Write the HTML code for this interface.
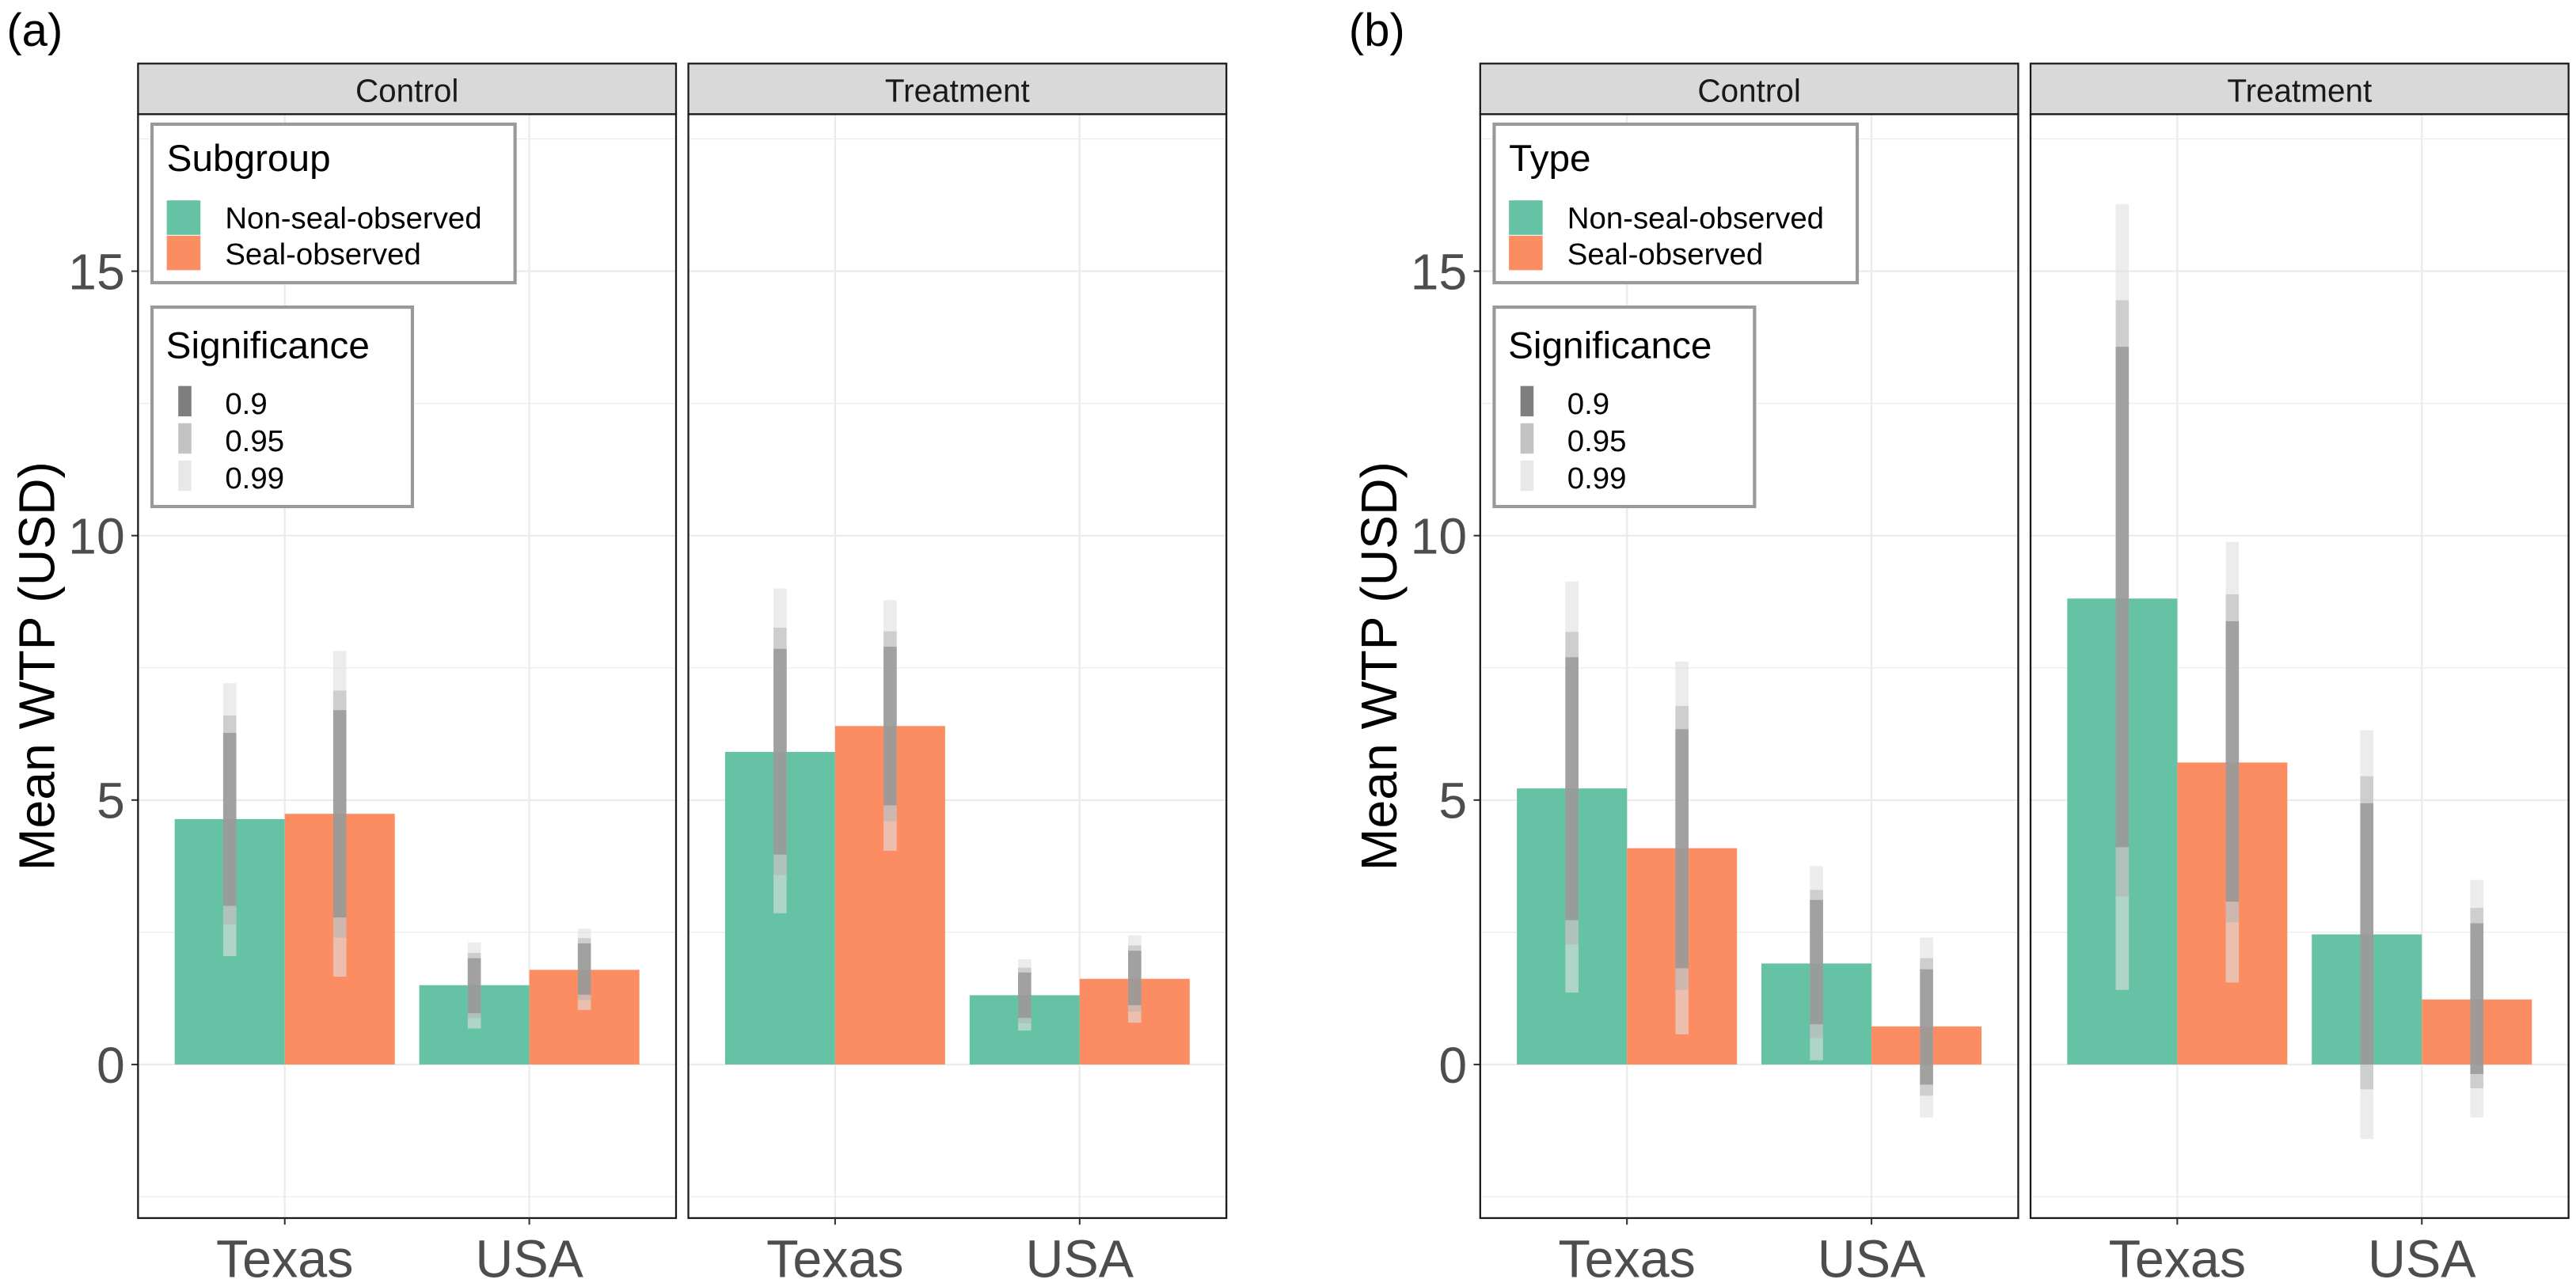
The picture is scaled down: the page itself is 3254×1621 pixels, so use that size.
<!DOCTYPE html>
<html><head><meta charset="utf-8"><style>
html,body{margin:0;padding:0;background:#fff;}
svg{display:block;font-family:"Liberation Sans",Arial,sans-serif;}
</style></head><body>
<svg id="fig" xmlns="http://www.w3.org/2000/svg" width="3254" height="1621" viewBox="0 0 1568 781.13"></svg>
<script>
const categories = ["Texas", "USA"];
const facets = ["Control", "Treatment"];
const subgroups = ["Non-seal-observed", "Seal-observed"];
const sigLevels = ["0.9", "0.95", "0.99"];
const yTicks = [0, 5, 10, 15];
const yTickLabels = ["0", "5", "10", "15"];
// order per facet: Texas-non-seal, Texas-seal, USA-non-seal, USA-seal (Control then Treatment)
const aMean = [4.64, 4.74, 1.50, 1.79, 5.91, 6.40, 1.31, 1.62];
const aLo90 = [3.00, 2.78, 0.97, 1.32, 3.97, 4.90, 0.88, 1.12];
const aHi90 = [6.27, 6.70, 2.01, 2.29, 7.86, 7.90, 1.74, 2.15];
const aLo95 = [2.65, 2.40, 0.88, 1.22, 3.58, 4.60, 0.78, 1.00];
const aHi95 = [6.60, 7.07, 2.11, 2.39, 8.26, 8.19, 1.83, 2.25];
const aLo99 = [2.05, 1.66, 0.68, 1.03, 2.86, 4.04, 0.64, 0.79];
const aHi99 = [7.21, 7.82, 2.31, 2.57, 9.00, 8.78, 1.99, 2.44];
const bMean = [5.22, 4.09, 1.91, 0.72, 8.81, 5.71, 2.46, 1.23];
const bLo90 = [2.73, 1.82, 0.76, -0.38, 4.11, 3.08, 0.00, -0.18];
const bHi90 = [7.70, 6.34, 3.11, 1.80, 13.57, 8.38, 4.94, 2.67];
const bLo95 = [2.27, 1.41, 0.50, -0.59, 3.18, 2.69, -0.47, -0.45];
const bHi95 = [8.18, 6.78, 3.30, 2.01, 14.45, 8.89, 5.45, 2.96];
const bLo99 = [1.36, 0.57, 0.08, -1.00, 1.41, 1.55, -1.41, -1.00];
const bHi99 = [9.13, 7.62, 3.75, 2.40, 16.27, 9.88, 6.32, 3.49];

const NS = "http://www.w3.org/2000/svg";
const svg = document.getElementById("fig");
function mk(tag, attrs, parent) {
  const e = document.createElementNS(NS, tag);
  for (const k in attrs) e.setAttribute(k, attrs[k]);
  (parent || svg).appendChild(e);
  return e;
}
const COLORS = ["#66c2a5", "#fc8d62"];
const PT = 69.5, PB = 741.6, PW = 327.5, GAP = 7.5;
const Y0 = 648.1, PXU = 32.2;
function y(v) { return Y0 - v * PXU; }
const YMIN = (Y0 - PB) / PXU, YMAX = (Y0 - PT) / PXU;
function xcat(px, i) { return px + (0.6 + i) * (PW / 2.2); }
const UNIT = PW / 2.2;

function drawChart(ox, tag, legendTitle, mean, lo90, hi90, lo95, hi95, lo99, hi99) {
  const g = mk("g", {});
  
  
  const lab = mk("text", {x: ox - 80, y: 28, "font-size": 28, fill: "#000"}, g);
  lab.textContent = "(" + tag + ")";
  
  
  const yt = mk("text", {x: 0, y: 0, "font-size": 31, fill: "#000", "text-anchor": "middle", transform: "translate(" + (ox - 51) + "," + ((PT + PB) / 2) + ") rotate(-90)"}, g);
  yt.textContent = "Mean WTP (USD)";
  
  
  yTicks.forEach((t, i) => {
    const tl = mk("text", {x: ox - 8, y: y(t) + 11, "font-size": 31, fill: "#4d4d4d", "text-anchor": "end"}, g);
    tl.textContent = yTickLabels[i];
    
    
    mk("line", {x1: ox - 4, x2: ox, y1: y(t), y2: y(t), stroke: "#333", "stroke-width": 1}, g);
  });
  facets.forEach((f, fi) => {
    const px = ox + fi * (PW + GAP);
    const pg = mk("g", {}, g);
    
    
    mk("rect", {x: px, y: PT, width: PW, height: PB - PT, fill: "#fff"}, pg);
    for (let v = -2.5; v <= YMAX; v += 2.5) {
      if (v < YMIN) continue;
      const major = Math.abs(v % 5) < 1e-6;
      mk("line", {x1: px, x2: px + PW, y1: y(v), y2: y(v), stroke: "#ebebeb", "stroke-width": major ? 1.1 : 0.6}, pg);
    }
    categories.forEach((c, ci) => {
      mk("line", {x1: xcat(px, ci), x2: xcat(px, ci), y1: PT, y2: PB, stroke: "#ebebeb", "stroke-width": 1.1}, pg);
    });
    categories.forEach((c, ci) => {
      subgroups.forEach((s, si) => {
        const idx = fi * 4 + ci * 2 + si;
        const cx = xcat(px, ci);
        const bx = si === 0 ? cx - 0.45 * UNIT : cx;
        const m = mean[idx];
        const bar = mk("rect", {x: bx, y: Math.min(y(m), y(0)), width: 0.45 * UNIT, height: Math.abs(y(m) - y(0)), fill: COLORS[si]}, pg);
        
        
        const mx = bx + 0.45 * UNIT / 2;
        const layers = [[lo99[idx], hi99[idx], "#e0e0e0", 0.6], [lo95[idx], hi95[idx], "#b0b0b0", 0.5], [lo90[idx], hi90[idx], "#888888", 0.65]];
        layers.forEach((L, li) => {
          const r = mk("rect", {x: mx - 4, y: y(L[1]), width: 8, height: y(L[0]) - y(L[1]), fill: L[2], "fill-opacity": L[3]}, pg);
          
          
        });
      });
    });
    mk("rect", {x: px, y: PT, width: PW, height: PB - PT, fill: "none", stroke: "#1a1a1a", "stroke-width": 1.1}, pg);
    const strip = mk("rect", {x: px, y: 38.7, width: PW, height: PT - 38.7, fill: "#d9d9d9", stroke: "#1a1a1a", "stroke-width": 1.1}, pg);
    
    
    const st = mk("text", {x: px + PW / 2, y: 62, "font-size": 19.5, fill: "#1a1a1a", "text-anchor": "middle"}, pg);
    st.textContent = f;
    
    
    categories.forEach((c, ci) => {
      const cx = xcat(px, ci);
      mk("line", {x1: cx, x2: cx, y1: PB, y2: PB + 4, stroke: "#333", "stroke-width": 1}, pg);
      const xl = mk("text", {x: cx, y: PB + 36, "font-size": 32, fill: "#4d4d4d", "text-anchor": "middle"}, pg);
      xl.textContent = c;
      
      
    });
  });
  // legends
  const lx = ox + 8.5;
  const lg1 = mk("g", {}, g);
  
  
  mk("rect", {x: lx, y: 75.6, width: 221, height: 96.5, fill: "#fff", stroke: "#999", "stroke-width": 2}, lg1);
  const t1 = mk("text", {x: lx + 9, y: 104, "font-size": 23, fill: "#000"}, lg1);
  t1.textContent = legendTitle;
  subgroups.forEach((s, si) => {
    const k = mk("rect", {x: lx + 9, y: 122 + si * 21.5, width: 20.5, height: 21, fill: COLORS[si]}, lg1);
    
    
    const tl = mk("text", {x: lx + 44.5, y: 139 + si * 22, "font-size": 18.5, fill: "#000"}, lg1);
    tl.textContent = s;
    
    
  });
  const lg2 = mk("g", {}, g);
  
  
  mk("rect", {x: lx, y: 187, width: 158.5, height: 121.4, fill: "#fff", stroke: "#999", "stroke-width": 2}, lg2);
  const t2 = mk("text", {x: lx + 8.5, y: 218, "font-size": 23, fill: "#000"}, lg2);
  t2.textContent = "Significance";
  const keyCols = ["#7f7f7f", "#c3c3c3", "#e8e8e8"];
  sigLevels.forEach((s, si) => {
    const k = mk("rect", {x: lx + 16, y: 235 + si * 22.7, width: 8, height: 18.5, fill: keyCols[si]}, lg2);
    
    
    const tl = mk("text", {x: lx + 44.5, y: 252 + si * 22.7, "font-size": 18.5, fill: "#000"}, lg2);
    tl.textContent = s;
    
    
  });
}
drawChart(84, "a", "Subgroup", aMean, aLo90, aHi90, aLo95, aHi95, aLo99, aHi99);
drawChart(901, "b", "Type", bMean, bLo90, bHi90, bLo95, bHi95, bLo99, bHi99);
</script>
</body></html>
